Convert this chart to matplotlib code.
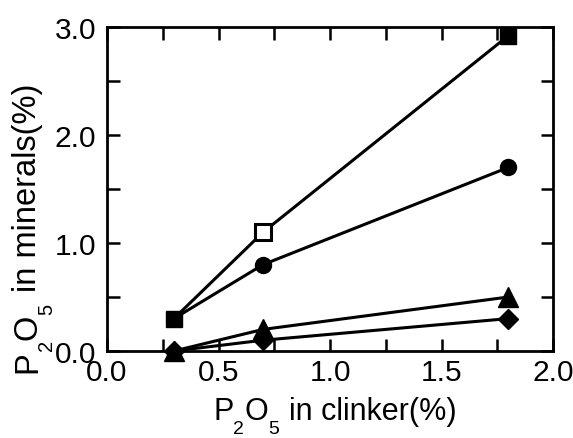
import matplotlib
matplotlib.use("Agg")
import matplotlib.pyplot as plt
from matplotlib.ticker import FixedLocator

plt.rcParams['font.family'] = ['Liberation Sans', 'DejaVu Sans']

clinker = [0.3, 0.7, 1.8]
square = [0.3, 1.1, 2.92]
circle = [0.3, 0.8, 1.7]
triangle = [0.0, 0.2, 0.5]
diamond = [0.0, 0.1, 0.3]
xticks = [0.0, 0.5, 1.0, 1.5, 2.0]
xminor = [0.25, 0.75, 1.25, 1.75]
yticks = [0.0, 1.0, 2.0, 3.0]
yminor = [0.5, 1.5, 2.5]
xticklabels = ['0.0', '0.5', '1.0', '1.5', '2.0']
yticklabels = ['0.0', '1.0', '2.0', '3.0']
xlabel_pieces = [('P', False), ('2', True), ('O', False), ('5', True), ('in clinker(%)', False)]
ylabel_pieces = [('P', False), ('2', True), ('O', False), ('5', True), ('in minerals(%)', False)]

W, H = 573, 439
fig = plt.figure(figsize=(W / 100, H / 100), dpi=100)
ax = fig.add_axes([107 / W, 1 - 352 / H, (553 - 107) / W, (352 - 28) / H])

lw = 2.2
ax.plot(clinker, circle, color='black', lw=lw, zorder=2)
ax.plot(clinker[1:], circle[1:], 'o', color='black', ms=11.5, zorder=3)
ax.plot(clinker, triangle, '-^', color='black', lw=lw, ms=14, zorder=3)
ax.plot(clinker, diamond, '-D', color='black', lw=lw, ms=10, zorder=3)
ax.plot(clinker, square, '-', color='black', lw=lw, zorder=3)
ax.plot([clinker[0], clinker[2]], [square[0], square[2]], 's', color='black', ms=12, zorder=4)
ax.plot([clinker[1]], [square[1]], 's', mfc='white', mec='black', mew=2.2, ms=12, zorder=4)

ax.xaxis.set_major_locator(FixedLocator(xticks))
ax.xaxis.set_minor_locator(FixedLocator(xminor))
ax.yaxis.set_major_locator(FixedLocator(yticks))
ax.yaxis.set_minor_locator(FixedLocator(yminor))
ax.set_xticklabels(xticklabels)
ax.set_yticklabels(yticklabels)
ax.set_xlim(0, 2.0)
ax.set_ylim(0, 3.0)
ax.tick_params(which='both', direction='in', top=True, right=True, width=1.8,
               length=9, labelsize=21.5)
ax.tick_params(axis='x', which='major', pad=5)
ax.tick_params(axis='y', which='major', pad=8)
for s in ax.spines.values():
    s.set_linewidth(2)
for l in ax.lines:
    l.set_clip_on(False)

renderer = fig.canvas.get_renderer()


def draw_label(pieces, x0, y0, vertical, fs_main, fs_sub, drop, gap):
    # x0, y0 in pixels, top-down coordinates for y
    pos = 0.0
    for i, (txt, sub) in enumerate(pieces):
        if i > 0 and not sub and pieces[i - 1][1] and txt.startswith('in'):
            pos += gap
        fs = fs_sub if sub else fs_main
        off = drop if sub else 0
        if vertical:
            px, py = x0 + off, (H - y0) + pos
            rot = 90
        else:
            px, py = x0 + pos, (H - y0) - off
            rot = 0
        fig.text(px / W, py / H, txt, fontsize=fs, rotation=rot,
                 rotation_mode='anchor', ha='left', va='baseline')
        t_meas = fig.text(0, 0, txt, fontsize=fs)
        w = t_meas.get_window_extent(renderer).width
        t_meas.remove()
        pos += w


draw_label(xlabel_pieces, 213, 420, False, 22, 14, 14, 10)
draw_label(ylabel_pieces, 36, 373, True, 23.5, 14.5, 16, 12)

fig.savefig('out.png', dpi=100)
